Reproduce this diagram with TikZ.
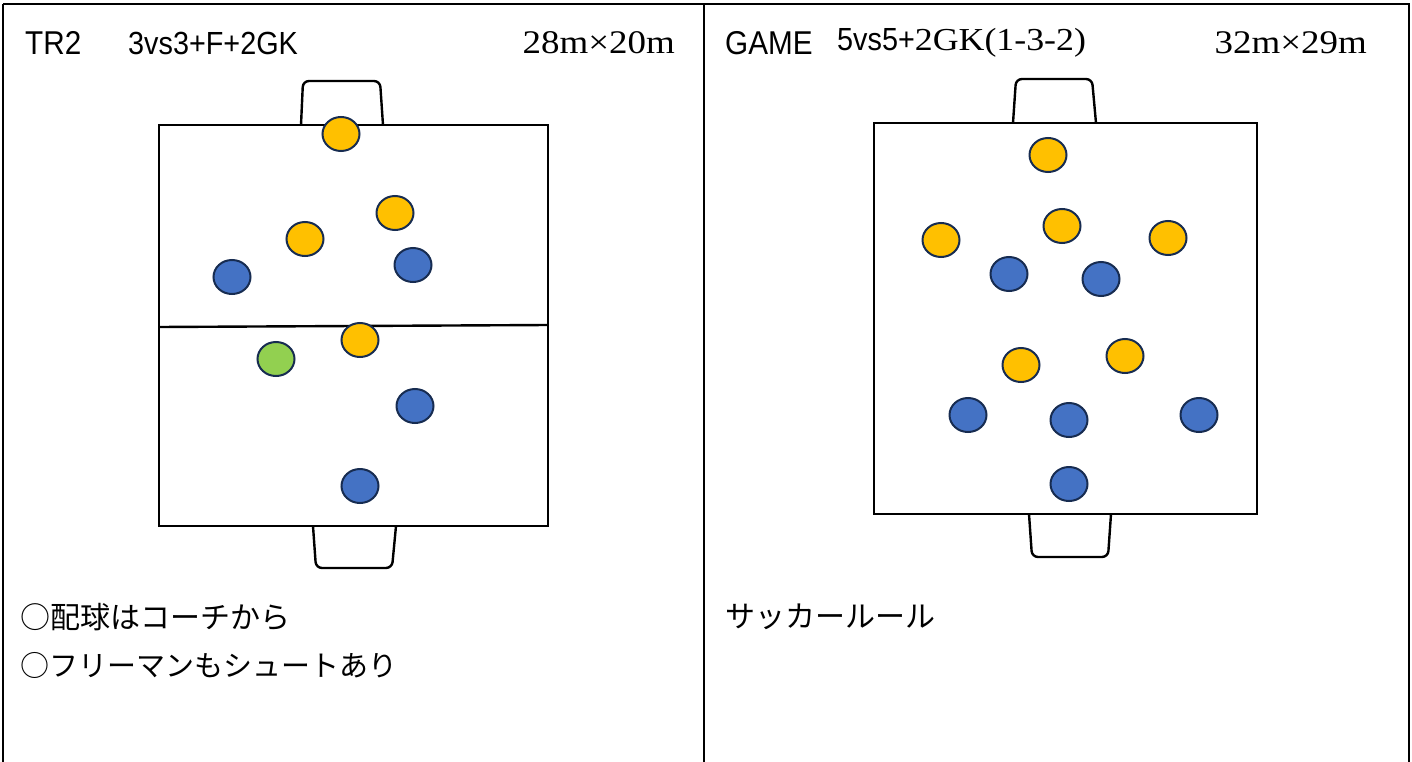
\documentclass[tikz,border=0pt]{standalone}
\usepackage{fontspec}
\usetikzlibrary{shapes.geometric}
\newfontfamily\jpfont{Noto Sans CJK JP}
\newfontfamily\hsans[FakeStretch=0.9]{Liberation Sans}
\newfontfamily\hserif[FakeStretch=1.12]{Liberation Serif}
\definecolor{pyellow}{HTML}{FFC000}
\definecolor{pblue}{HTML}{4472C4}
\definecolor{pgreen}{HTML}{92D050}
\definecolor{pedge}{HTML}{172C51}
\tikzset{
	player/.style={ellipse, draw=pedge, line width=2pt, minimum width=37pt, minimum height=34pt, inner sep=0pt},
	yel/.style={player, fill=pyellow},
	blu/.style={player, fill=pblue},
	grn/.style={player, fill=pgreen},
	pitch/.style={line width=2.4pt},
	goalbox/.style={line width=2.4pt, rounded corners=6pt}
}
\begin{document}
\begin{tikzpicture}[x=1pt, y=-1pt]
	\useasboundingbox (0,0) rectangle (1412,762);
	\fill[white] (0,0) rectangle (1412,762);
	
	% frame
	\draw[line width=2.4pt] (3,4) -- (1410,4);
	\draw[line width=2.4pt] (3,4) -- (3,762);
	\draw[line width=2.4pt] (704,4) -- (704,762);
	\draw[line width=2.4pt] (1409,4) -- (1409,762);
	
	% left panel
	\node [right, inner sep=0pt] (trname) at (25,43) {\fontsize{33}{36}\selectfont\hsans TR2};
	\node [right, inner sep=0pt] (trform) at (128,43) {\fontsize{32}{36}\selectfont\hsans 3vs3+F+2GK};
	\node [left, inner sep=0pt] (trsize) at (675,43) {\fontsize{33}{36}\selectfont\hserif 28m×20m};
	
	\draw[pitch] (159,125) rectangle (548,526);
	\draw[pitch] (159,327) -- (548,325);
	\draw[goalbox] (301,125) -- (303,81) -- (380,81) -- (383,125);
	\draw[goalbox] (313,526) -- (316,568) -- (392,568) -- (396,526);
	
	\node [yel] (ly1) at (341,134) {};
	\node [yel] (ly2) at (395,213) {};
	\node [yel] (ly3) at (305,239) {};
	\node [yel] (ly4) at (360,340) {};
	\node [blu] (lb1) at (232,277) {};
	\node [blu] (lb2) at (413,265) {};
	\node [blu] (lb3) at (415,406) {};
	\node [blu] (lb4) at (360,486) {};
	\node [grn] (free) at (276,359) {};
	
	\node [right, inner sep=0pt] (note1) at (20,617) {\fontsize{30}{32}\selectfont\jpfont ○配球はコーチから};
	\node [right, inner sep=0pt] (note2) at (20,665) {\fontsize{29}{32}\selectfont\jpfont ○フリーマンもシュートあり};
	
	% right panel
	\node [right, inner sep=0pt] (gname) at (725,43) {\fontsize{33}{36}\selectfont\hsans GAME};
	\node [right, inner sep=0pt] (gform) at (837,43) {\fontsize{32}{36}\selectfont\hsans 5vs5+\hserif 2GK(1-3-2)};
	\node [left, inner sep=0pt] (gsize) at (1367,43) {\fontsize{33}{36}\selectfont\hserif 32m×29m};
	
	\draw[pitch] (874,123) rectangle (1257,514);
	\draw[goalbox] (1013,123) -- (1016,79) -- (1092,79) -- (1096,123);
	\draw[goalbox] (1029,514) -- (1032,557) -- (1108,557) -- (1111,514);
	
	\node [yel] (gy1) at (1048,155) {};
	\node [yel] (gy2) at (941,240) {};
	\node [yel] (gy3) at (1062,226) {};
	\node [yel] (gy4) at (1168,238) {};
	\node [yel] (gy5) at (1021,365) {};
	\node [yel] (gy6) at (1125,356) {};
	\node [blu] (gb1) at (1009,274) {};
	\node [blu] (gb2) at (1101,279) {};
	\node [blu] (gb3) at (968,415) {};
	\node [blu] (gb4) at (1069,420) {};
	\node [blu] (gb5) at (1199,415) {};
	\node [blu] (gb6) at (1069,484) {};
	
	\node [right, inner sep=0pt] (rule) at (725,617) {\fontsize{30}{32}\selectfont\jpfont サッカールール};
	
\end{tikzpicture}
\end{document}
